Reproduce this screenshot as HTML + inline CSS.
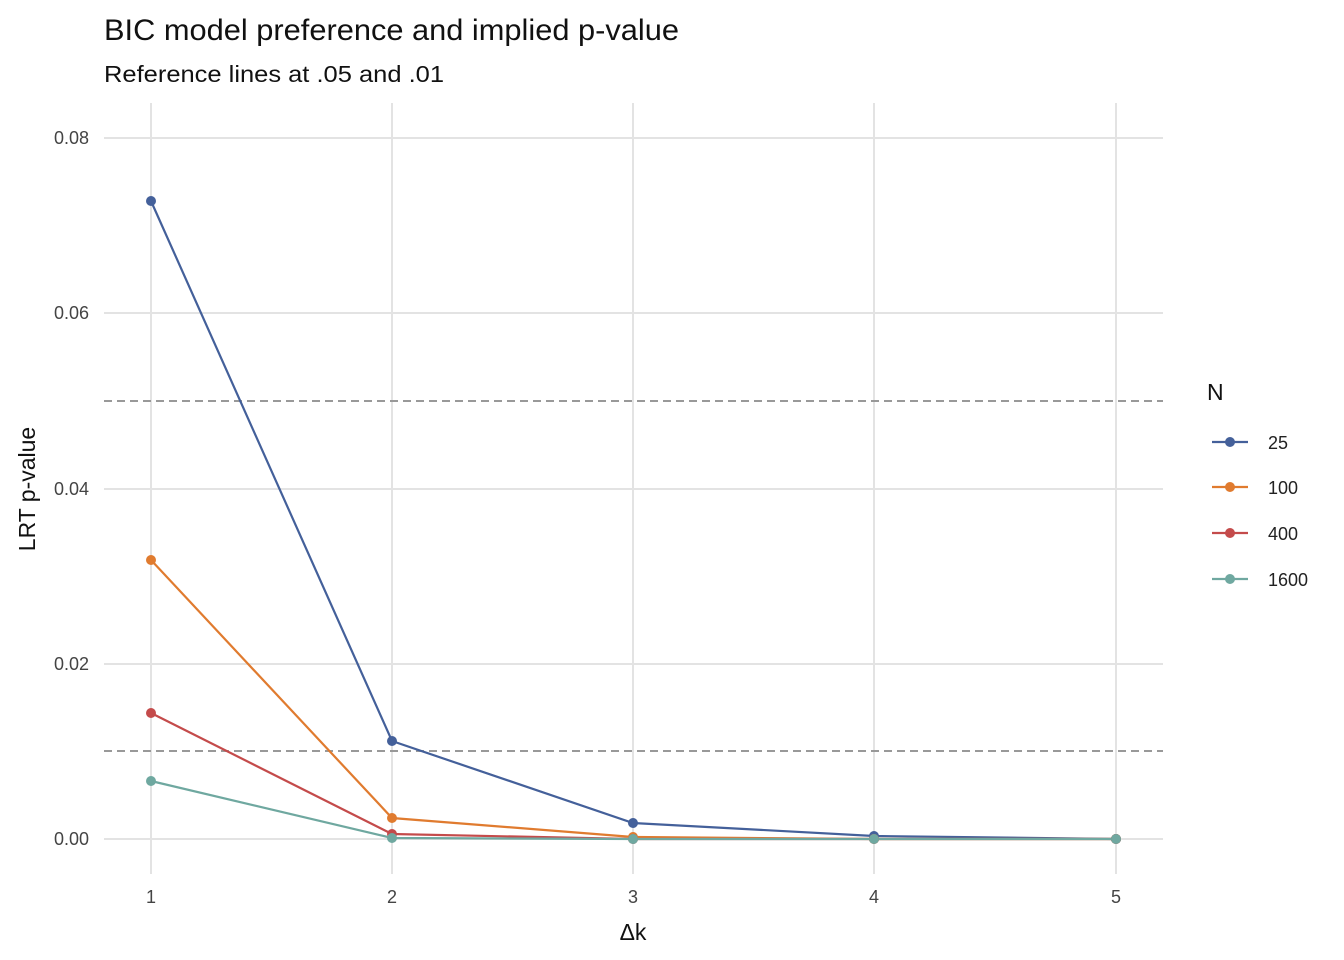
<!DOCTYPE html>
<html><head><meta charset="utf-8"><style>body{margin:0;background:#fff}svg{display:block}text{font-family:"Liberation Sans",sans-serif}</style></head><body>
<svg width="1344" height="960" viewBox="0 0 1344 960" xmlns="http://www.w3.org/2000/svg">
<rect width="1344" height="960" fill="#fff"/>
<g stroke="#e3e3e3" stroke-width="2">
<line x1="104" x2="1163" y1="839" y2="839"/><line x1="104" x2="1163" y1="664" y2="664"/><line x1="104" x2="1163" y1="489" y2="489"/><line x1="104" x2="1163" y1="313" y2="313"/><line x1="104" x2="1163" y1="138" y2="138"/>
<line x1="151" x2="151" y1="103" y2="874"/><line x1="392" x2="392" y1="103" y2="874"/><line x1="633" x2="633" y1="103" y2="874"/><line x1="874" x2="874" y1="103" y2="874"/><line x1="1116" x2="1116" y1="103" y2="874"/>
</g>
<g stroke="#999" stroke-width="2" stroke-dasharray="8,5"><line x1="104" x2="1163" y1="401" y2="401"/><line x1="104" x2="1163" y1="751" y2="751"/></g>
<g fill="none" stroke-width="2.2">
<polyline stroke="#44609a" points="151,201 392,741 633,823 874,836 1116,839"/>
<polyline stroke="#e07b2f" points="151,560 392,818 633,837 874,839 1116,839"/>
<polyline stroke="#c44b4b" points="151,713 392,834 633,839 874,839 1116,839"/>
<polyline stroke="#6fa8a0" points="151,781 392,838 633,839 874,839 1116,839"/>
</g>
<g fill="#44609a"><circle cx="151" cy="201" r="5"/><circle cx="392" cy="741" r="5"/><circle cx="633" cy="823" r="5"/><circle cx="874" cy="836" r="5"/><circle cx="1116" cy="839" r="5"/></g>
<g fill="#e07b2f"><circle cx="151" cy="560" r="5"/><circle cx="392" cy="818" r="5"/><circle cx="633" cy="837" r="5"/><circle cx="874" cy="839" r="5"/><circle cx="1116" cy="839" r="5"/></g>
<g fill="#c44b4b"><circle cx="151" cy="713" r="5"/><circle cx="392" cy="834" r="5"/><circle cx="633" cy="839" r="5"/><circle cx="874" cy="839" r="5"/><circle cx="1116" cy="839" r="5"/></g>
<g fill="#6fa8a0"><circle cx="151" cy="781" r="5"/><circle cx="392" cy="838" r="5"/><circle cx="633" cy="839" r="5"/><circle cx="874" cy="839" r="5"/><circle cx="1116" cy="839" r="5"/></g>
<g font-size="18" fill="#444" text-anchor="end">
<text x="89" y="845">0.00</text><text x="89" y="670">0.02</text><text x="89" y="495">0.04</text><text x="89" y="319">0.06</text><text x="89" y="144">0.08</text></g>
<g font-size="18" fill="#444" text-anchor="middle">
<text x="151" y="903">1</text><text x="392" y="903">2</text><text x="633" y="903">3</text><text x="874" y="903">4</text><text x="1116" y="903">5</text></g>
<text x="633" y="940" font-size="23" text-anchor="middle" fill="#111">Δk</text>
<text transform="translate(35,489) rotate(-90)" font-size="23" text-anchor="middle" fill="#111">LRT p-value</text>
<text x="104" y="40" font-size="30" fill="#111" textLength="575" lengthAdjust="spacingAndGlyphs">BIC model preference and implied p-value</text>
<text x="104" y="82" font-size="23" fill="#111" textLength="340" lengthAdjust="spacingAndGlyphs">Reference lines at .05 and .01</text>
<text x="1207" y="400" font-size="23" fill="#111">N</text>
<g stroke-width="2.2">
<line x1="1212" x2="1248" y1="442" y2="442" stroke="#44609a"/><circle cx="1230" cy="442" r="5" fill="#44609a"/>
<line x1="1212" x2="1248" y1="487" y2="487" stroke="#e07b2f"/><circle cx="1230" cy="487" r="5" fill="#e07b2f"/>
<line x1="1212" x2="1248" y1="533" y2="533" stroke="#c44b4b"/><circle cx="1230" cy="533" r="5" fill="#c44b4b"/>
<line x1="1212" x2="1248" y1="579" y2="579" stroke="#6fa8a0"/><circle cx="1230" cy="579" r="5" fill="#6fa8a0"/>
</g>
<g font-size="18" fill="#222"><text x="1268" y="449">25</text><text x="1268" y="494">100</text><text x="1268" y="540">400</text><text x="1268" y="586">1600</text></g>
</svg>
</body></html>
